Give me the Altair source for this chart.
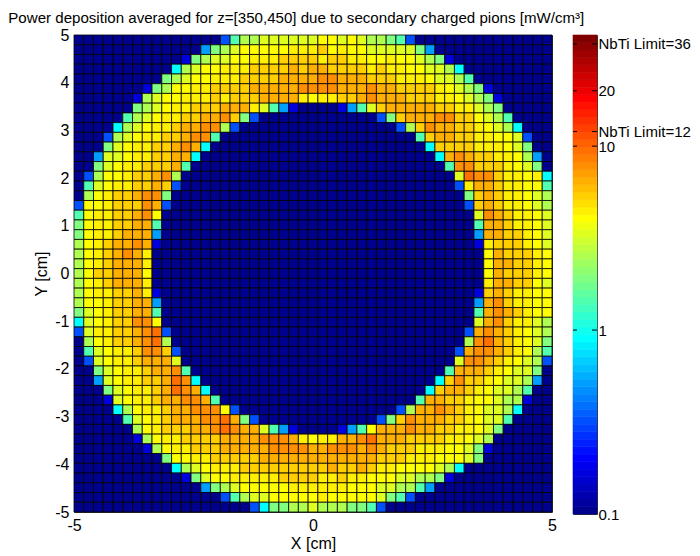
import numpy as np
import pandas as pd
import altair as alt

# Cell readings: letter -> power deposition estimate [mW/cm3]; '.' is the floor colour
LEVELS = {".": 0.1, "a": 0.167, "b": 0.32, "c": 0.515, "d": 0.90, "e": 1.44, "f": 1.91,
          "g": 2.53, "h": 3.36, "i": 4.05, "j": 4.6, "k": 5.4, "l": 6.5, "m": 7.9, "n": 9.6}

# One entry per row, top to bottom. "col:cells" gives the ring cells starting at a column.
ROWS = [
    "15:begghhhhhhiihihggfeb",
    "13:cfghiiiiijjjkijiihhhhhfc",
    "11:afghhiijjjkkkkjkkjjiijiihgfa",
    "10:dghiijjjkkkklkllkkkkjkjjiihhgd",
    "9:fghiijjjkkkkllllmmlllkkkjjjihhge",
    "7:afgiijjkkkklllllmmmmlllmllkkkkjihgfa",
    "6:aghiijjjkjkkklllljijjkklmlllkkkjjihgfa",
    "6:fghijjkkkllljheca 27:acehklllllkkjjhgf",
    "5:eghijjkkllmkfb 31:bfklllmmkkihge",
    "4:dghijjkllmmgb 33:bgkmllkkjihgd",
    "3:bghijjkklmme 35:ekllkkjjiihb",
    "3:fhijjkklmld 36:dkkkkjjjihf",
    "2:chhijjkklld 37:dlmlkkjjigc",
    "2:fhijjkkkle 38:emmkkkjihf",
    "1:bgiijkklmg 39:hnmmkjjijd",
    "1:ehijjkklkb 39:bjllkjjiie",
    "1:gijkklmmf 40:fklkjjihg",
    "0:biijkkkmlb 40:bklkjjihg",
    "0:eijjkklmi 41:hmlkjjih",
    "0:fijjkklle 41:ellkjjih",
    "0:fijjklllc 41:cllkkjih",
    "0:gijkllmla 41:ajkkkjih",
    "0:gijklmlj 42:ilkkkji",
    "0:gijklllj 42:illkkji",
    "0:gikkllli 42:ilkkkji",
    "0:gijklllj 42:jllkkih",
    "0:gijjkklja 41:aklkjjii",
    "0:giijkkllc 41:clmkjjii",
    "0:fhijkklle 41:elmlkjii",
    "0:dhijkkmmi 41:hlmkjjhg",
    "0:bhjjkklmnb 40:blmlkjihg",
    "1:gijkklmng 40:gmnlkjihf",
    "1:ehijjkmmkb 39:blmmlkjige",
    "1:bhijjklllh 39:hmmlkjihgb",
    "2:fhijjkllme 38:elllkjihhf",
    "2:chijjkklnmd 37:dkmkkjihhgc",
    "3:fhijjklnmld 36:dkllkjihhge",
    "3:ahijjkllmmle 35:ellkkjiihgga",
    "4:dgijjkllmmmib 33:bgllmlkjihhgd",
    "5:ehijklllmmnlfb 31:bfkmlllkkjihhe",
    "6:gijkkkllmnmllheca 27:aceilllmllkkjjihf",
    "6:agijjkkkkllllmmmljijjllmnlllkkkkjjihg",
    "7:agijjkkklllllmmmmllmmmlmlkkkjjjiihfa",
    "9:fiijjkkkkkllllllllllllkkkjjjiiihf",
    "10:dghijjjkkkkkkkkklkklkjjiiiihgd",
    "11:afhiijjjjjkkkkjjkjjiiihhggfa",
    "13:cfghiiiiijjjjjjiiihhggec",
    "15:beghhiiiiijiiiiihfeb",
    "18:bdffgghgggffeb",
]

N = 49
TITLE = "Power deposition averaged for z=[350,450] due to secondary charged pions [mW/cm\u00b3]"
X_TICKS = [-5, 0, 5]
Y_TICKS = [-5, -4, -3, -2, -1, 0, 1, 2, 3, 4, 5]
BAR_TICKS = [0.1, 1, 10, 12, 20, 36]
BAR_MARKS = [1, 10, 12, 20, 36]
V_MIN, V_MAX = 0.1, 40.2
FONT = "Liberation Sans"


def jet(n):
    out = []
    for i in range(n):
        t = (i + 1) / n
        r = np.clip(min(4 * t - 1.5, -4 * t + 4.5), 0, 1)
        g = np.clip(min(4 * t - 0.5, -4 * t + 3.5), 0, 1)
        b = np.clip(min(4 * t + 0.5, -4 * t + 2.5), 0, 1)
        out.append("#%02x%02x%02x" % (round(r * 255), round(g * 255), round(b * 255)))
    return out


JET = jet(64)
edges = np.linspace(-5, 5, N + 1)
cells = []
for r, row in enumerate(ROWS):
    line = ["."] * N
    for seg in row.split():
        start, vals = seg.split(":")
        for k, ch in enumerate(vals):
            line[int(start) + k] = ch
    for c, ch in enumerate(line):
        v = LEVELS[ch]
        cells.append({"x0": edges[c], "x1": edges[c + 1], "y0": edges[N - r - 1], "y1": edges[N - r],
                      "lv": float(np.log10(v)) + 1e-4})
cells = pd.DataFrame(cells)

color_scale = alt.Scale(type="quantize", domain=[np.log10(V_MIN), np.log10(V_MAX)], range=JET)

heat = (
    alt.Chart(cells)
    .mark_rect(stroke="#000000", strokeWidth=1, strokeOpacity=0.8)
    .encode(
        x=alt.X("x0:Q", scale=alt.Scale(domain=[-5, 5], nice=False),
                axis=alt.Axis(values=X_TICKS, title="X [cm]", grid=False, domain=False, tickSize=0,
                              labelPadding=5, titlePadding=2, labelFlush=False,
                              labelExpr="''+datum.value")),
        x2="x1:Q",
        y=alt.Y("y0:Q", scale=alt.Scale(domain=[-5, 5], nice=False),
                axis=alt.Axis(values=Y_TICKS, title="Y [cm]", grid=False, domain=False, tickSize=0,
                              labelPadding=5, titlePadding=5, labelFlush=False,
                              labelExpr="''+datum.value")),
        y2="y1:Q",
        color=alt.Color("lv:Q", scale=color_scale, legend=None),
    )
    .properties(width=478, height=477)
)

lows = np.logspace(np.log10(V_MIN), np.log10(V_MAX), 65)
ramp = pd.DataFrame({"lo": lows[:-1], "hi": lows[1:]})
ramp["lv"] = (np.log10(ramp["lo"]) + np.log10(ramp["hi"])) / 2
marks = pd.DataFrame({"v": BAR_MARKS})
bar_y = alt.Scale(type="log", domain=[V_MIN, V_MAX], nice=False)

ramp_layer = (
    alt.Chart(ramp)
    .mark_rect(strokeWidth=0.6)
    .encode(
        x=alt.value(0), x2=alt.value(24),
        y=alt.Y("lo:Q", scale=bar_y,
                axis=alt.Axis(orient="right", values=BAR_TICKS, title=None, grid=False, domain=False,
                              tickSize=0, labelPadding=1, labelFontSize=15, labelOverlap=False,
                              labelFlush=False,
                              labelExpr="datum.value==36?'NbTi Limit=36':datum.value==12?'NbTi Limit=12':''+datum.value")),
        y2="hi:Q",
        color=alt.Color("lv:Q", scale=color_scale, legend=None),
        stroke=alt.Stroke("lv:Q", scale=color_scale, legend=None),
    )
)
tick_l = alt.Chart(marks).mark_rule(color="#000000", strokeWidth=1).encode(
    x=alt.value(0), x2=alt.value(4), y=alt.Y("v:Q", scale=bar_y))
tick_r = alt.Chart(marks).mark_rule(color="#000000", strokeWidth=1).encode(
    x=alt.value(19), x2=alt.value(24), y=alt.Y("v:Q", scale=bar_y))
bar = alt.layer(ramp_layer, tick_l, tick_r).properties(width=24, height=479)

chart = (
    alt.hconcat(heat, bar, spacing=15)
    .properties(padding={"left": 0, "right": 0, "top": 3, "bottom": 0}, background="#ffffff",
                title=alt.TitleParams(TITLE, fontSize=15.1, font=FONT, fontWeight="normal",
                                      anchor="start", frame="bounds", dx=-25, offset=0))
    .configure_view(stroke="#333333", strokeWidth=1)
    .configure_axis(labelFont=FONT, titleFont=FONT, labelFontSize=16, titleFontSize=16,
                    labelColor="#000000", titleColor="#000000", titleFontWeight="normal")
    .configure_title(color="#000000")
)
chart.save("out.html", embed_options={"renderer": "svg", "actions": False})
